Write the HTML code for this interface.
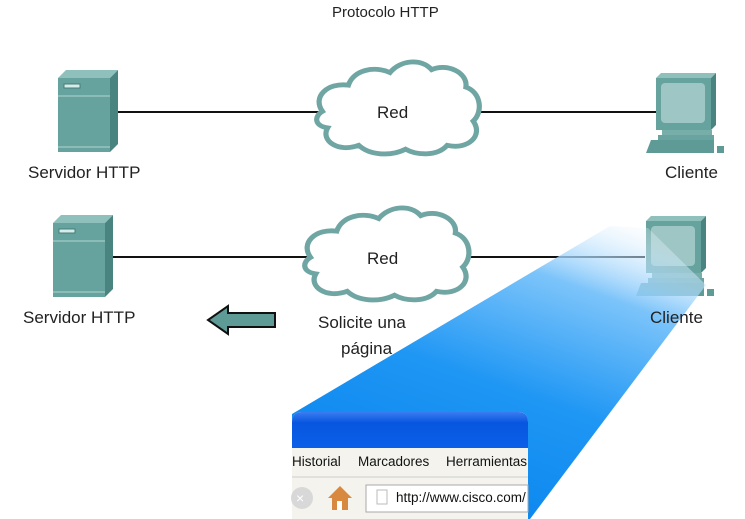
<!DOCTYPE html>
<html><head><meta charset="utf-8"><style>
body{margin:0;width:745px;height:519px;background:#fff;overflow:hidden;position:relative;font-family:"Liberation Sans",sans-serif;color:#222}
.t{position:absolute;font-size:17px;white-space:nowrap}
.m{position:absolute;font-size:13.5px;color:#111;white-space:nowrap}
</style></head><body>
<svg width="745" height="519" style="position:absolute;left:0;top:0">
<defs>
<linearGradient id="beam" x1="0.9" y1="0" x2="0.4" y2="1">
<stop offset="0" stop-color="#fff" stop-opacity="0.2"/>
<stop offset="0.25" stop-color="#7cc4fa"/>
<stop offset="0.6" stop-color="#1e96f4"/>
<stop offset="1" stop-color="#0a86ee"/>
</linearGradient>
<linearGradient id="title" x1="0" y1="0" x2="0" y2="1">
<stop offset="0" stop-color="#3a7cf0"/><stop offset="0.3" stop-color="#0856e0"/><stop offset="1" stop-color="#0a5fe8"/>
</linearGradient>
<g id="server">
<polygon points="0,8 8,0 60,0 52,8" fill="#8fc0bc"/>
<polygon points="52,8 60,0 60,74 52,82" fill="#4a8480"/>
<rect x="0" y="8" width="52" height="74" fill="#66a29e"/>
<rect x="0" y="25" width="52" height="2" fill="#8cbcb8"/>
<rect x="0" y="76" width="52" height="2" fill="#8cbcb8"/>
<rect x="6" y="14" width="16" height="4" fill="#d8ecea" stroke="#467f7b" stroke-width="1"/>
</g>
<g id="client">
<polygon points="0,5 5,0 60,0 55,5" fill="#8fc0bc"/>
<polygon points="55,5 60,0 60,52 55,57" fill="#4a8480"/>
<rect x="0" y="5" width="55" height="52" fill="#66a29e"/>
<rect x="5" y="10" width="44" height="40" rx="4" fill="#9dc6c4"/>
<rect x="6" y="57" width="50" height="5" fill="#78aeaa"/>
<rect x="2" y="62" width="56" height="5" fill="#6aa4a0"/>
<polygon points="-5,67 58,67 58,80 -10,80" fill="#5e9b97"/>
<rect x="61" y="73" width="7" height="7" fill="#5e9b97"/>
</g>
<path id="cloud" d="M10,55 C0,40 15,25 35,28 C40,12 60,8 75,15 C85,2 105,0 115,12 C130,5 150,15 148,30 C162,35 165,55 155,65 C165,80 150,95 130,90 C120,102 100,100 90,94 C75,102 55,100 45,90 C25,98 8,85 15,72 C2,70 2,60 10,55 Z" fill="#fff" stroke="#6fa6a3" stroke-width="5"/>
</defs>
<line x1="117" y1="112" x2="660" y2="112" stroke="#111" stroke-width="2"/>
<line x1="110" y1="257" x2="645" y2="257" stroke="#111" stroke-width="2"/>
<use href="#server" x="58" y="70"/>
<use href="#server" x="53" y="215"/>
<use href="#cloud" transform="translate(312,58) scale(1.04,0.97)"/>
<use href="#cloud" transform="translate(300,204) scale(1.05,0.97)"/>
<use href="#client" x="656" y="73"/>
<use href="#client" x="646" y="216"/>
<polygon points="292,414 610,226 648,228 706,285 530,519 292,519" fill="url(#beam)"/>
<polygon points="275,313 228,313 228,306 208,320 228,334 228,327 275,327" fill="#5e9b97" stroke="#111" stroke-width="2"/>
<g>
<path d="M292,422 Q292,412 302,412 L518,412 Q528,412 528,422 L528,519 L292,519 Z" fill="#f4f3ee"/>
<path d="M292,422 Q292,412 302,412 L518,412 Q528,412 528,422 L528,448 L292,448 Z" fill="url(#title)"/>
<line x1="292" y1="477" x2="528" y2="477" stroke="#ccc"/>
<circle cx="302" cy="498" r="11" fill="#d8d8d8"/>
<text x="296" y="503" fill="#fff" font-size="14" font-family="Liberation Sans">×</text>
<polygon points="340,486 328,498 332,498 332,510 348,510 348,498 352,498" fill="#d9893f"/>
<rect x="337" y="501" width="5" height="9" fill="#fff"/>
<rect x="366" y="485" width="162" height="27" fill="#fff" stroke="#aaa"/>
<rect x="377" y="490" width="10" height="14" fill="#fff" stroke="#bbb"/>
</g>
</svg>
<div class="t" style="left:332px;top:4px;font-size:15px">Protocolo HTTP</div>
<div class="t" style="left:28px;top:163px">Servidor HTTP</div>
<div class="t" style="left:665px;top:163px">Cliente</div>
<div class="t" style="left:377px;top:103px">Red</div>
<div class="t" style="left:367px;top:249px">Red</div>
<div class="t" style="left:23px;top:308px">Servidor HTTP</div>
<div class="t" style="left:650px;top:308px">Cliente</div>
<div class="t" style="left:318px;top:313px">Solicite una</div>
<div class="t" style="left:341px;top:339px">página</div>
<div class="m" style="left:292px;top:454px">Historial</div>
<div class="m" style="left:358px;top:454px">Marcadores</div>
<div class="m" style="left:446px;top:454px">Herramientas</div>
<div class="m" style="left:396px;top:490px;width:132px;overflow:hidden">http://www.cisco.com/</div>
</body></html>
